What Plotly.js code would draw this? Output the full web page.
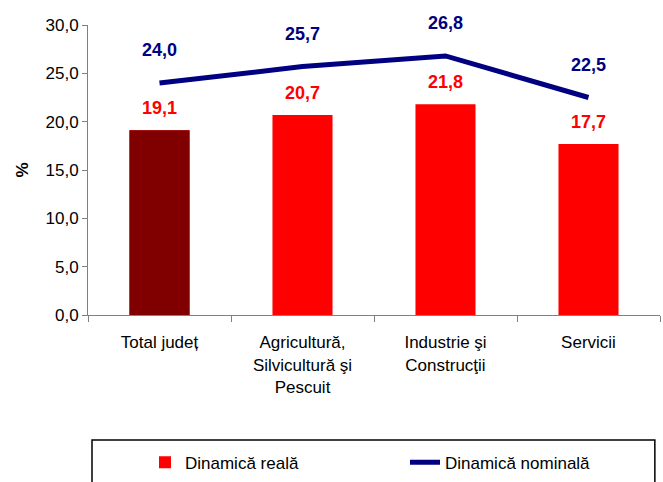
<!DOCTYPE html>
<html>
<head>
<meta charset="utf-8">
<script src="https://cdn.plot.ly/plotly-3.0.1.min.js"></script>
<style>html,body{margin:0;padding:0;background:#fff;}#chart{width:663px;height:482px;}</style>
</head>
<body>
<div id="chart"></div>
<script>
const categories = ["Total județ", "Agricultură,<br>Silvicultură şi<br>Pescuit", "Industrie şi<br>Construcţii", "Servicii"];
const realValues = [19.1, 20.7, 21.8, 17.7];
const nominalValues = [24.0, 25.7, 26.8, 22.5];
const realLabels = ["19,1", "20,7", "21,8", "17,7"];
const nominalLabels = ["24,0", "25,7", "26,8", "22,5"];
const yTickVals = [0, 5, 10, 15, 20, 25, 30];
const yTickText = ["0,0", "5,0", "10,0", "15,0", "20,0", "25,0", "30,0"];
const seriesNames = ["Dinamică reală", "Dinamică nominală"];

const font = "Liberation Sans, Arial, sans-serif";

const traces = [
  {
    type: "bar", x: categories, y: realValues, name: seriesNames[0],
    marker: {color: "#FF0000"}, width: 0.42, hoverinfo: "none"
  },
  {
    type: "bar", x: [categories[0]], y: [realValues[0]], name: categories[0], showlegend: false,
    marker: {color: "#800000"}, width: 0.42, hoverinfo: "none"
  },
  {
    type: "scatter", mode: "lines", x: categories, y: nominalValues, name: seriesNames[1],
    line: {color: "#000080", width: 5}, hoverinfo: "none"
  }
];

const annotations = [];
categories.forEach((c, i) => {
  annotations.push({x: c, y: realValues[i], xref: "x", yref: "y", text: realLabels[i], showarrow: false,
    yshift: 22, font: {family: font, size: 18, color: "#FF0000", weight: "bold"}});
  annotations.push({x: c, y: nominalValues[i], xref: "x", yref: "y", text: nominalLabels[i], showarrow: false,
    yshift: 33, font: {family: font, size: 18, color: "#000080", weight: "bold"}});
});

const layout = {
  width: 663, height: 482,
  margin: {l: 88, r: 3, t: 25, b: 167},
  paper_bgcolor: "#fff", plot_bgcolor: "#fff",
  font: {family: font, color: "#000"},
  barmode: "overlay",
  showlegend: true,
  legend: {orientation: "h", xref: "container", yref: "container", x: 0.2187, y: 0.04, xanchor: "left", yanchor: "middle",
    font: {family: font, size: 17, color: "#000"}, entrywidth: 215, entrywidthmode: "pixels",
    bgcolor: "rgba(0,0,0,0)", traceorder: "normal"},
  xaxis: {
    type: "category", showgrid: false, showline: true, linecolor: "#808080", linewidth: 1,
    ticks: "outside", tickson: "boundaries", ticklen: 6, tickcolor: "#808080",
    ticklabelstandoff: 12,
    tickfont: {family: font, size: 17, color: "#000"}, fixedrange: true
  },
  yaxis: {
    range: [0, 30], tickvals: yTickVals, ticktext: yTickText, showgrid: false, zeroline: false,
    showline: true, linecolor: "#808080", linewidth: 1, ticks: "outside", ticklen: 5, tickcolor: "#808080",
    tickfont: {family: font, size: 17, color: "#000"},
    title: {text: "%", font: {family: font, size: 17, color: "#000", weight: "bold"}, standoff: 12},
    fixedrange: true
  },
  shapes: [{type: "rect", xref: "paper", yref: "paper", x0: 0.007, x1: 0.991, y0: -0.431, y1: -0.62,
    line: {color: "#000", width: 1.5}, fillcolor: "rgba(0,0,0,0)"}],
  annotations: annotations
};

Plotly.newPlot("chart", traces, layout, {displayModeBar: false, staticPlot: true});
</script>
</body>
</html>
